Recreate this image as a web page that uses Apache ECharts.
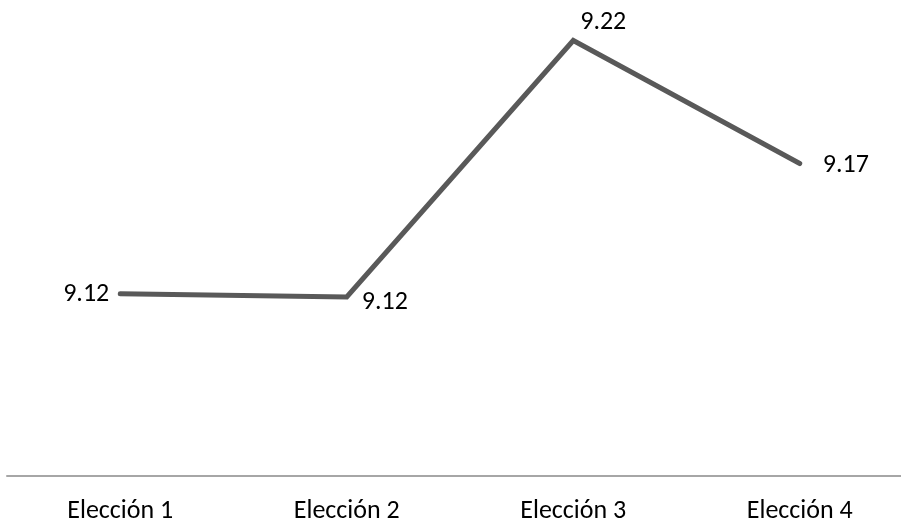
<!DOCTYPE html>
<html>
<head>
<meta charset="utf-8">
<script src="https://cdn.jsdelivr.net/npm/echarts@6/dist/echarts.min.js"></script>
<style>
  html, body { margin: 0; padding: 0; background: #fff; }
  #chart { width: 901px; height: 522px; }
</style>
</head>
<body>
<div id="chart"></div>
<script>
// Election rounds and their average scores
const categories = ['Elección 1', 'Elección 2', 'Elección 3', 'Elección 4'];
const scores = [9.12, 9.1187, 9.22, 9.1714];

const FONT = 'Carlito, Calibri, "Open Sans", sans-serif';
const LINE_COLOR = '#595959';

// Label placement per point (left, right-low, top-right, right)
const labelPlacement = [
  { position: 'left', distance: 10, offset: [0, 1] },
  { position: 'right', distance: 14, offset: [0, 6] },
  { position: 'top', distance: 5, offset: [30, 1] },
  { position: 'right', distance: 22, offset: [0, 2] }
];

const chart = echarts.init(document.getElementById('chart'), null, { renderer: 'canvas' });

chart.setOption({
  animation: false,
  backgroundColor: '#ffffff',
  grid: { left: 7, top: 0, width: 906, height: 476, outerBoundsMode: 'none' },
  xAxis: {
    type: 'category',
    data: categories,
    boundaryGap: true,
    axisLine: { show: true, lineStyle: { color: '#a6a6a6', width: 2 } },
    axisTick: { show: false },
    axisLabel: { color: '#000000', fontSize: 26, fontFamily: FONT, margin: 22 },
    splitLine: { show: false }
  },
  yAxis: {
    type: 'value',
    min: 9.048,
    max: 9.236,
    show: false,
    splitLine: { show: false }
  },
  series: [{
    type: 'line',
    data: scores.map((v, i) => ({
      value: v,
      label: labelPlacement[i]
    })),
    showSymbol: true,
    symbol: 'circle',
    symbolSize: 2,
    itemStyle: { color: LINE_COLOR },
    lineStyle: { color: LINE_COLOR, width: 5, cap: 'round', join: 'miter' },
    label: {
      show: true,
      color: '#000000',
      fontSize: 26,
      fontFamily: FONT,
      formatter: p => p.value.toFixed(2)
    }
  }]
});
</script>
</body>
</html>
